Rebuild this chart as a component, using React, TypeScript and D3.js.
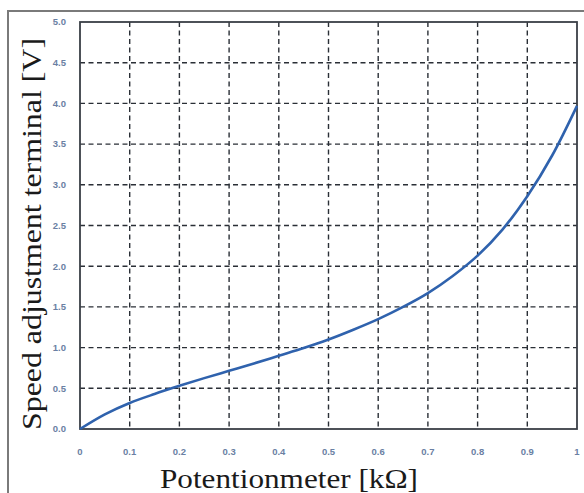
import React from "react";
import * as d3 from "d3";

const xValues = [0, 0.05, 0.1, 0.15, 0.2, 0.25, 0.3, 0.35, 0.4, 0.45, 0.5, 0.55, 0.6, 0.65, 0.7, 0.75, 0.8, 0.85, 0.9, 0.95, 1.0];
const yValues = [0, 0.18, 0.32, 0.43, 0.53, 0.625, 0.715, 0.805, 0.9, 0.995, 1.1, 1.22, 1.35, 1.5, 1.67, 1.88, 2.13, 2.45, 2.86, 3.36, 3.97];
const xTicks = [0, 0.1, 0.2, 0.3, 0.4, 0.5, 0.6, 0.7, 0.8, 0.9, 1];
const xTickLabels = ["0", "0.1", "0.2", "0.3", "0.4", "0.5", "0.6", "0.7", "0.8", "0.9", "1"];
const yTicks = [0, 0.5, 1, 1.5, 2, 2.5, 3, 3.5, 4, 4.5, 5];
const yTickLabels = ["0.0", "0.5", "1.0", "1.5", "2.0", "2.5", "3.0", "3.5", "4.0", "4.5", "5.0"];
const xTitle = "Potentionmeter [kΩ]";
const yTitle = "Speed adjustment terminal [V]";

export default function App() {
  const W = 584, H = 493;
  const left = 80, right = 577, top = 22, bottom = 429;
  const x = d3.scaleLinear().domain([0, 1]).range([left, right]);
  const y = d3.scaleLinear().domain([0, 5]).range([bottom, top]);
  const pts: [number, number][] = xValues.map((v, i) => [v, yValues[i]]);
  const line = d3.line<[number, number]>().x(d => x(d[0])).y(d => y(d[1])).curve(d3.curveCatmullRom.alpha(0.5));
  const tickColor = "#6a80a3";
  const gridColor = "#2a2f36";
  return (
    <svg width={W} height={H} style={{ position: "absolute", left: 0, top: 0, background: "#fff" }}>
      <rect x={0} y={0} width={W} height={H} fill="#fff" />
      <rect x={8} y={11} width={700} height={600} fill="none" stroke="#7a7a7a" strokeWidth={2} />
      {xTicks.slice(1, -1).map((t, i) => (
        <line key={"gx" + i} x1={x(t)} x2={x(t)} y1={top} y2={bottom} stroke={gridColor} strokeWidth={1.4} strokeDasharray="5,3.5" />
      ))}
      {yTicks.slice(1, -1).map((t, i) => (
        <line key={"gy" + i} x1={left} x2={right} y1={y(t)} y2={y(t)} stroke={gridColor} strokeWidth={1.4} strokeDasharray="5,3.5" />
      ))}
      <rect x={left} y={top} width={right - left} height={bottom - top} fill="none" stroke="#3a3f46" strokeWidth={1.8} />
      <path d={line(pts) || ""} fill="none" stroke="#2f62ad" strokeWidth={2.6} />
      {yTicks.map((t, i) => (
        <text key={"yl" + i} x={66} y={y(t)} dy="0.35em" textAnchor="end" fontFamily="Liberation Sans, Arial, sans-serif" fontWeight="bold" fontSize={9.5} fill={tickColor}>{yTickLabels[i]}</text>
      ))}
      {xTicks.map((t, i) => (
        <text key={"xl" + i} x={x(t)} y={455} textAnchor="middle" fontFamily="Liberation Sans, Arial, sans-serif" fontWeight="bold" fontSize={9.5} fill={tickColor}>{xTickLabels[i]}</text>
      ))}
      <text x={289} y={488} textAnchor="middle" fontFamily="Liberation Serif, Times New Roman, serif" fontSize={27} fill="#1a1a1a" textLength={258} lengthAdjust="spacingAndGlyphs">{xTitle}</text>
      <text transform={`translate(41,234) rotate(-90)`} textAnchor="middle" fontFamily="Liberation Serif, Times New Roman, serif" fontSize={27} fill="#1a1a1a" textLength={392} lengthAdjust="spacingAndGlyphs">{yTitle}</text>
    </svg>
  );
}
